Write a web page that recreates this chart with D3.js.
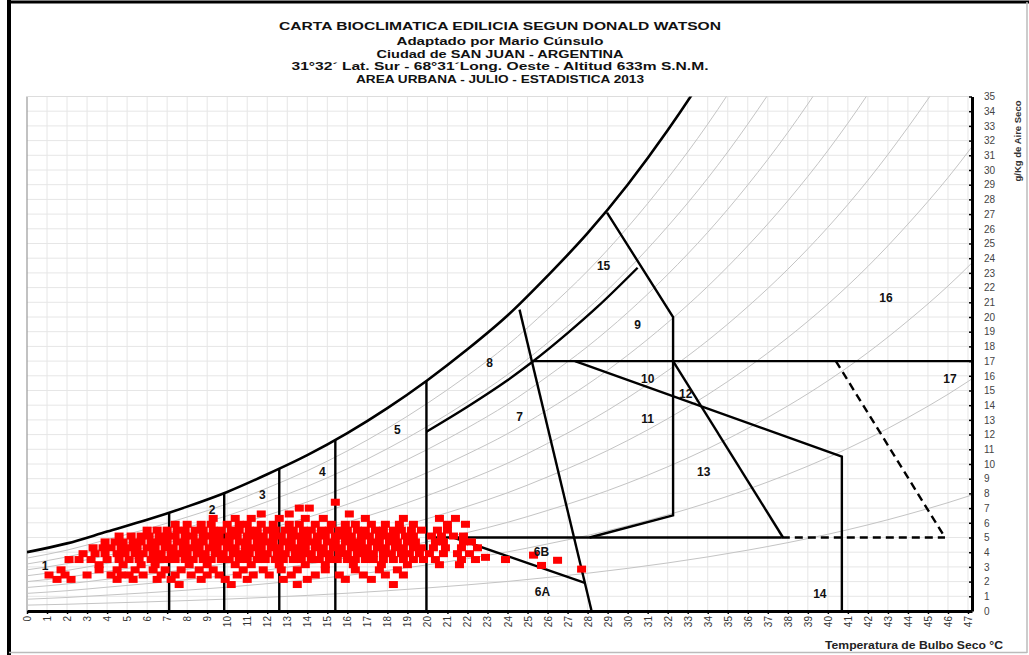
<!DOCTYPE html>
<html>
<head>
<meta charset="utf-8">
<script src="https://cdn.jsdelivr.net/npm/d3@7"></script>
<style>
  body { margin: 0; background: #fff; }
  svg { display: block; }
  text { font-family: "Liberation Sans", Arial, sans-serif; }
</style>
</head>
<body>
<div id="chart"></div>
<script>
// Carta bioclimatica (Watson) - San Juan, julio 2013

const titleLines = [
  'CARTA BIOCLIMATICA EDILICIA SEGUN DONALD WATSON',
  'Adaptado por Mario Cúnsulo',
  'Ciudad de SAN JUAN - ARGENTINA',
  '31°32´ Lat. Sur - 68°31´Long. Oeste - Altitud 633m S.N.M.',
  'AREA URBANA - JULIO - ESTADISTICA 2013'
]

// saturation curve (g/kg), every 2 °C
const satTemps = [0, 2, 4, 6, 8, 10, 12, 14, 16, 18, 20, 22, 24, 26, 28, 30, 32, 34, 36, 38, 40, 42, 44, 46, 48]
const satValues = [4.0, 4.6, 5.4, 6.2, 7.1, 8.1, 9.3, 10.6, 12.1, 13.8, 15.7, 17.8, 20.1, 22.8, 25.7, 29.0, 32.7, 36.8, 41.4, 46.5, 52.2, 58.6, 65.8, 73.7, 82.6]
const rhLevels = [0.1, 0.2, 0.3, 0.4, 0.5, 0.6, 0.7, 0.8, 0.9]

const xTicks = d3.range(0, 48)
const yTicks = d3.range(0, 36)

// zone boundaries [temp, g/kg]
const zoneLines = [
  [[7.1, 0], [7.1, 6.7]],
  [[9.85, 0], [9.85, 8.05]],
  [[12.6, 0], [12.6, 9.7]],
  [[15.4, 0], [15.4, 11.65]],
  [[19.95, 0], [19.95, 15.65]],
  [[19.95, 5], [37.7, 5]],
  [[21.3, 5], [27.9, 1.9]],
  [[24.6, 20.5], [28.2, 0]],
  [[28.97, 27.1], [32.27, 20.0], [32.27, 6.5], [28.1, 5]],
  [[25.2, 17], [47.2, 17]],
  [[27.37, 17], [40.7, 10.5], [40.7, 0]],
  [[32.27, 17], [37.76, 5]]
]
const zoneCurve = [[19.95, 12.2], [22, 13.9], [24, 15.7], [25.2, 16.9], [27, 18.9], [28.5, 20.7], [30.5, 23.35]]
const dashedLines = [
  [[37.7, 5], [45.85, 5]],
  [[40.4, 17], [45.85, 5]]
]

const zoneLabels = [
  ['1', 0.9, 3.1], ['2', 9.25, 6.9], ['3', 11.75, 7.9], ['4', 14.75, 9.5],
  ['5', 18.5, 12.3], ['6B', 25.7, 4.0], ['6A', 25.75, 1.3], ['7', 24.6, 13.2],
  ['8', 23.1, 16.9], ['9', 30.5, 19.5], ['10', 31.0, 15.8], ['11', 31.0, 13.1],
  ['12', 32.9, 14.75], ['13', 33.8, 9.5], ['14', 39.6, 1.2], ['15', 28.8, 23.5],
  ['16', 42.9, 21.3], ['17', 46.1, 15.8]
]

// hourly readings, grouped by humidity row (g/kg) -> temperatures (°C)
const pointRows = [
  { w: 7.4, t: [15.4] },
  { w: 7.0, t: [13.6, 14.1] },
  { w: 6.6, t: [11.7, 13.1, 16.1] },
  { w: 6.3, t: [9.3, 10.4, 11.2, 12.6, 13.9, 14.8, 16.9, 18.8, 20.6, 21.4] },
  { w: 5.9, t: [7.4, 8.0, 8.7, 9.2, 10.0, 10.6, 11.0, 11.7, 12.3, 13.1, 13.6, 14.4, 15.2, 15.9, 16.4, 17.2, 17.9, 18.6, 19.3, 21.0, 21.9] },
  { w: 5.5, t: [6.0, 6.5, 7.0, 7.5, 7.9, 8.4, 8.8, 9.3, 9.7, 10.2, 10.6, 11.1, 11.5, 12.0, 12.4, 12.9, 13.3, 13.8, 14.2, 14.7, 15.1, 15.6, 16.0, 16.5, 16.9, 17.4, 17.8, 18.3, 18.7, 19.2, 19.7, 20.5, 21.0] },
  { w: 5.1, t: [4.6, 5.2, 5.7, 6.1, 6.6, 7.0, 7.4, 7.9, 8.3, 8.8, 9.2, 9.6, 10.1, 10.5, 11.0, 11.4, 11.8, 12.3, 12.7, 13.2, 13.6, 14.0, 14.5, 14.9, 15.4, 15.8, 16.2, 16.7, 17.1, 17.6, 18.0, 18.4, 18.9, 19.3, 20.2, 20.7, 21.3, 21.8] },
  { w: 4.7, t: [3.9, 4.4, 4.8, 5.3, 5.7, 6.2, 6.6, 7.0, 7.5, 7.9, 8.4, 8.8, 9.3, 9.7, 10.1, 10.6, 11.0, 11.5, 11.9, 12.3, 12.8, 13.2, 13.7, 14.1, 14.5, 15.0, 15.4, 15.9, 16.3, 16.7, 17.2, 17.6, 18.1, 18.5, 19.0, 19.4, 20.4, 20.8, 21.8, 22.2] },
  { w: 4.3, t: [3.3, 3.8, 4.2, 4.7, 5.1, 5.5, 6.0, 6.4, 6.9, 7.3, 7.8, 8.2, 8.6, 9.1, 9.5, 10.0, 10.4, 10.9, 11.3, 11.7, 12.2, 12.6, 13.1, 13.5, 13.9, 14.4, 14.8, 15.3, 15.7, 16.2, 16.6, 17.0, 17.5, 17.9, 18.4, 18.8, 19.3, 19.7, 20.3, 20.9, 21.7, 22.5] },
  { w: 3.9, t: [2.8, 3.4, 3.9, 4.5, 4.9, 5.4, 5.8, 6.3, 6.7, 7.2, 7.6, 8.0, 8.5, 8.9, 9.4, 9.8, 10.3, 10.7, 11.1, 11.6, 12.0, 12.5, 12.9, 13.4, 13.8, 14.2, 14.7, 15.1, 15.6, 16.0, 16.5, 16.9, 17.3, 17.8, 18.2, 18.7, 19.1, 19.6, 20.1, 20.8, 21.5, 22.1] },
  { w: 3.5, t: [2.1, 2.6, 3.2, 4.0, 4.6, 5.1, 5.6, 6.2, 6.6, 7.0, 7.4, 7.9, 8.3, 8.8, 9.2, 9.7, 10.1, 10.6, 11.0, 11.5, 11.9, 12.4, 12.8, 13.3, 13.7, 14.2, 14.6, 15.1, 15.5, 16.0, 16.4, 16.9, 17.3, 17.8, 18.3, 18.8, 19.3, 19.8, 20.4, 21.7, 22.4, 23.9] },
  { w: 3.15, t: [3.6, 4.8, 5.7, 6.4, 8.1, 9.0, 10.4, 11.2, 12.6, 13.9, 14.9, 16.3, 17.7, 19.0, 20.6, 21.6] },
  { w: 2.8, t: [1.7, 3.6, 4.5, 5.4, 6.3, 6.9, 7.7, 8.6, 9.3, 10.8, 11.8, 12.7, 13.5, 14.9, 16.4, 17.6, 18.5] },
  { w: 2.45, t: [1.1, 1.9, 3.0, 4.2, 4.7, 5.1, 5.8, 6.7, 7.4, 8.2, 9.0, 9.6, 10.5, 11.3, 12.1, 13.2, 14.4, 15.6, 16.8, 17.9, 18.8] },
  { w: 2.15, t: [1.5, 2.2, 4.5, 5.3, 6.5, 7.2, 8.7, 9.9, 11.0, 12.8, 14.0, 15.9, 17.2] },
  { w: 1.8, t: [7.6, 10.2, 13.5, 18.3] }
]
const extraPoints = [[22.9, 3.65], [25.3, 3.8], [26.5, 3.45], [25.7, 3.1], [27.7, 2.85]]

const W = 1029, H = 655

const x = d3.scaleLinear().domain([0, 47.2]).range([27, 972])
const y = d3.scaleLinear().domain([0, 35]).range([611, 96.5])

const svg = d3.select('#chart')
  .append('svg')
  .attr('width', W)
  .attr('height', H)

// outer frame
svg.append('line').attr('x1', 9).attr('x2', 9).attr('y1', 0).attr('y2', H).attr('stroke', '#000').attr('stroke-width', 4)
svg.append('line').attr('x1', 7).attr('x2', W).attr('y1', 2).attr('y2', 2).attr('stroke', '#000').attr('stroke-width', 3)
svg.append('line').attr('x1', 9).attr('x2', W - 2).attr('y1', 652.5).attr('y2', 652.5).attr('stroke', '#bbb').attr('stroke-width', 1.5)
svg.append('line').attr('x1', W - 2).attr('x2', W - 2).attr('y1', 2).attr('y2', 653).attr('stroke', '#bbb').attr('stroke-width', 1.5)

// title, stretched to the widths of the original lines
const titleY = [30, 44.5, 57.5, 70, 82.5]
const titleWidth = [442, 207, 247, 417, 288]
svg.append('g')
  .selectAll('text')
  .data(titleLines)
  .join('text')
  .attr('x', 500)
  .attr('y', (d, i) => titleY[i])
  .attr('text-anchor', 'middle')
  .attr('font-weight', 'bold')
  .attr('font-size', (d, i) => i === 0 ? 11.5 : 11)
  .attr('textLength', (d, i) => titleWidth[i])
  .attr('lengthAdjust', 'spacingAndGlyphs')
  .attr('fill', '#111')
  .text(d => d)

svg.append('clipPath').attr('id', 'plot')
  .append('rect')
  .attr('x', x(0)).attr('y', y(35))
  .attr('width', x(47.2) - x(0)).attr('height', y(0) - y(35))

// grid
const grid = svg.append('g').attr('stroke', '#e6e6e6').attr('stroke-width', 1)
grid.selectAll('.gx')
  .data(d3.range(1, 48))
  .join('line')
  .attr('x1', d => x(d)).attr('x2', d => x(d))
  .attr('y1', y(0)).attr('y2', y(35))
grid.selectAll('.gy')
  .data(d3.range(1, 36))
  .join('line')
  .attr('x1', x(0)).attr('x2', x(47.2))
  .attr('y1', d => y(d)).attr('y2', d => y(d))

svg.append('line').attr('x1', x(0)).attr('x2', x(0)).attr('y1', y(35)).attr('y2', y(0)).attr('stroke', '#999').attr('stroke-width', 1.2)
svg.append('line').attr('x1', x(0)).attr('x2', x(47.2)).attr('y1', y(35)).attr('y2', y(35)).attr('stroke', '#ddd').attr('stroke-width', 1)

const plot = svg.append('g').attr('clip-path', 'url(#plot)')

// relative humidity curves
const curve = d3.line()
  .x(d => x(d[0]))
  .y(d => y(d[1]))
  .curve(d3.curveMonotoneX)

plot.selectAll('.rh')
  .data(rhLevels)
  .join('path')
  .attr('class', 'rh')
  .attr('d', r => curve(satTemps.map((t, i) => [t, satValues[i] * r])))
  .attr('fill', 'none')
  .attr('stroke', '#c4c4c4')
  .attr('stroke-width', 1)

// saturation curve
plot.append('path')
  .attr('d', curve(satTemps.map((t, i) => [t, satValues[i]])))
  .attr('fill', 'none')
  .attr('stroke', '#000')
  .attr('stroke-width', 2.6)

// zones
const poly = d3.line().x(d => x(d[0])).y(d => y(d[1]))
plot.selectAll('.zone')
  .data(zoneLines)
  .join('path')
  .attr('class', 'zone')
  .attr('d', poly)
  .attr('fill', 'none')
  .attr('stroke', '#000')
  .attr('stroke-width', 2.4)
  .attr('stroke-linejoin', 'miter')

plot.append('path')
  .attr('d', curve(zoneCurve))
  .attr('fill', 'none')
  .attr('stroke', '#000')
  .attr('stroke-width', 2.4)

plot.selectAll('.dash')
  .data(dashedLines)
  .join('path')
  .attr('class', 'dash')
  .attr('d', poly)
  .attr('fill', 'none')
  .attr('stroke', '#000')
  .attr('stroke-width', 2.4)
  .attr('stroke-dasharray', '8,5')

// readings
const readings = pointRows.flatMap(r => r.t.map(t => [t, r.w])).concat(extraPoints)
plot.selectAll('.pt')
  .data(readings)
  .join('rect')
  .attr('class', 'pt')
  .attr('x', d => x(d[0]) - 4.5)
  .attr('y', d => y(d[1]) - 3.5)
  .attr('width', 9)
  .attr('height', 7)
  .attr('fill', '#ff0000')

// zone labels
svg.append('g')
  .selectAll('text')
  .data(zoneLabels)
  .join('text')
  .attr('x', d => x(d[1]))
  .attr('y', d => y(d[2]))
  .attr('dy', '0.35em')
  .attr('text-anchor', 'middle')
  .attr('font-weight', 'bold')
  .attr('font-size', 12)
  .attr('fill', '#111')
  .text(d => d[0])

// bottom axis
const xAxis = svg.append('g')
  .attr('transform', `translate(0,${y(0)})`)
  .call(d3.axisBottom(x).tickValues(xTicks).tickSizeInner(3).tickSizeOuter(0).tickFormat(d3.format('d')))
xAxis.select('.domain').attr('stroke', '#000').attr('stroke-width', 3)
xAxis.selectAll('.tick line').attr('stroke', '#000').attr('stroke-width', 1.5)
xAxis.selectAll('.tick text')
  .attr('transform', 'rotate(-90)')
  .attr('x', -5)
  .attr('y', 0)
  .attr('dy', '0.35em')
  .attr('text-anchor', 'end')
  .attr('font-size', 10)
  .attr('font-family', '"Liberation Sans", Arial, sans-serif')
  .attr('fill', '#333')

// right axis
const yAxis = svg.append('g')
  .attr('transform', `translate(${x(47.2)},0)`)
  .call(d3.axisRight(y).tickValues(yTicks).tickSizeInner(-3).tickSizeOuter(0).tickPadding(12))
yAxis.select('.domain').attr('stroke', '#000').attr('stroke-width', 3)
yAxis.selectAll('.tick line').attr('stroke', '#000').attr('stroke-width', 1.5)
yAxis.selectAll('.tick text')
  .attr('font-size', 10)
  .attr('font-family', '"Liberation Sans", Arial, sans-serif')
  .attr('fill', '#444')

// axis titles
svg.append('text')
  .attr('x', 914)
  .attr('y', 649)
  .attr('text-anchor', 'middle')
  .attr('font-weight', 'bold')
  .attr('font-size', 10.5)
  .attr('textLength', 178)
  .attr('lengthAdjust', 'spacingAndGlyphs')
  .attr('fill', '#222')
  .text('Temperatura de Bulbo Seco °C')

svg.append('text')
  .attr('transform', 'translate(1021,141) rotate(-90)')
  .attr('text-anchor', 'middle')
  .attr('font-weight', 'bold')
  .attr('font-size', 9.5)
  .attr('fill', '#333')
  .text('g/Kg de Aire Seco')
</script>
</body>
</html>
